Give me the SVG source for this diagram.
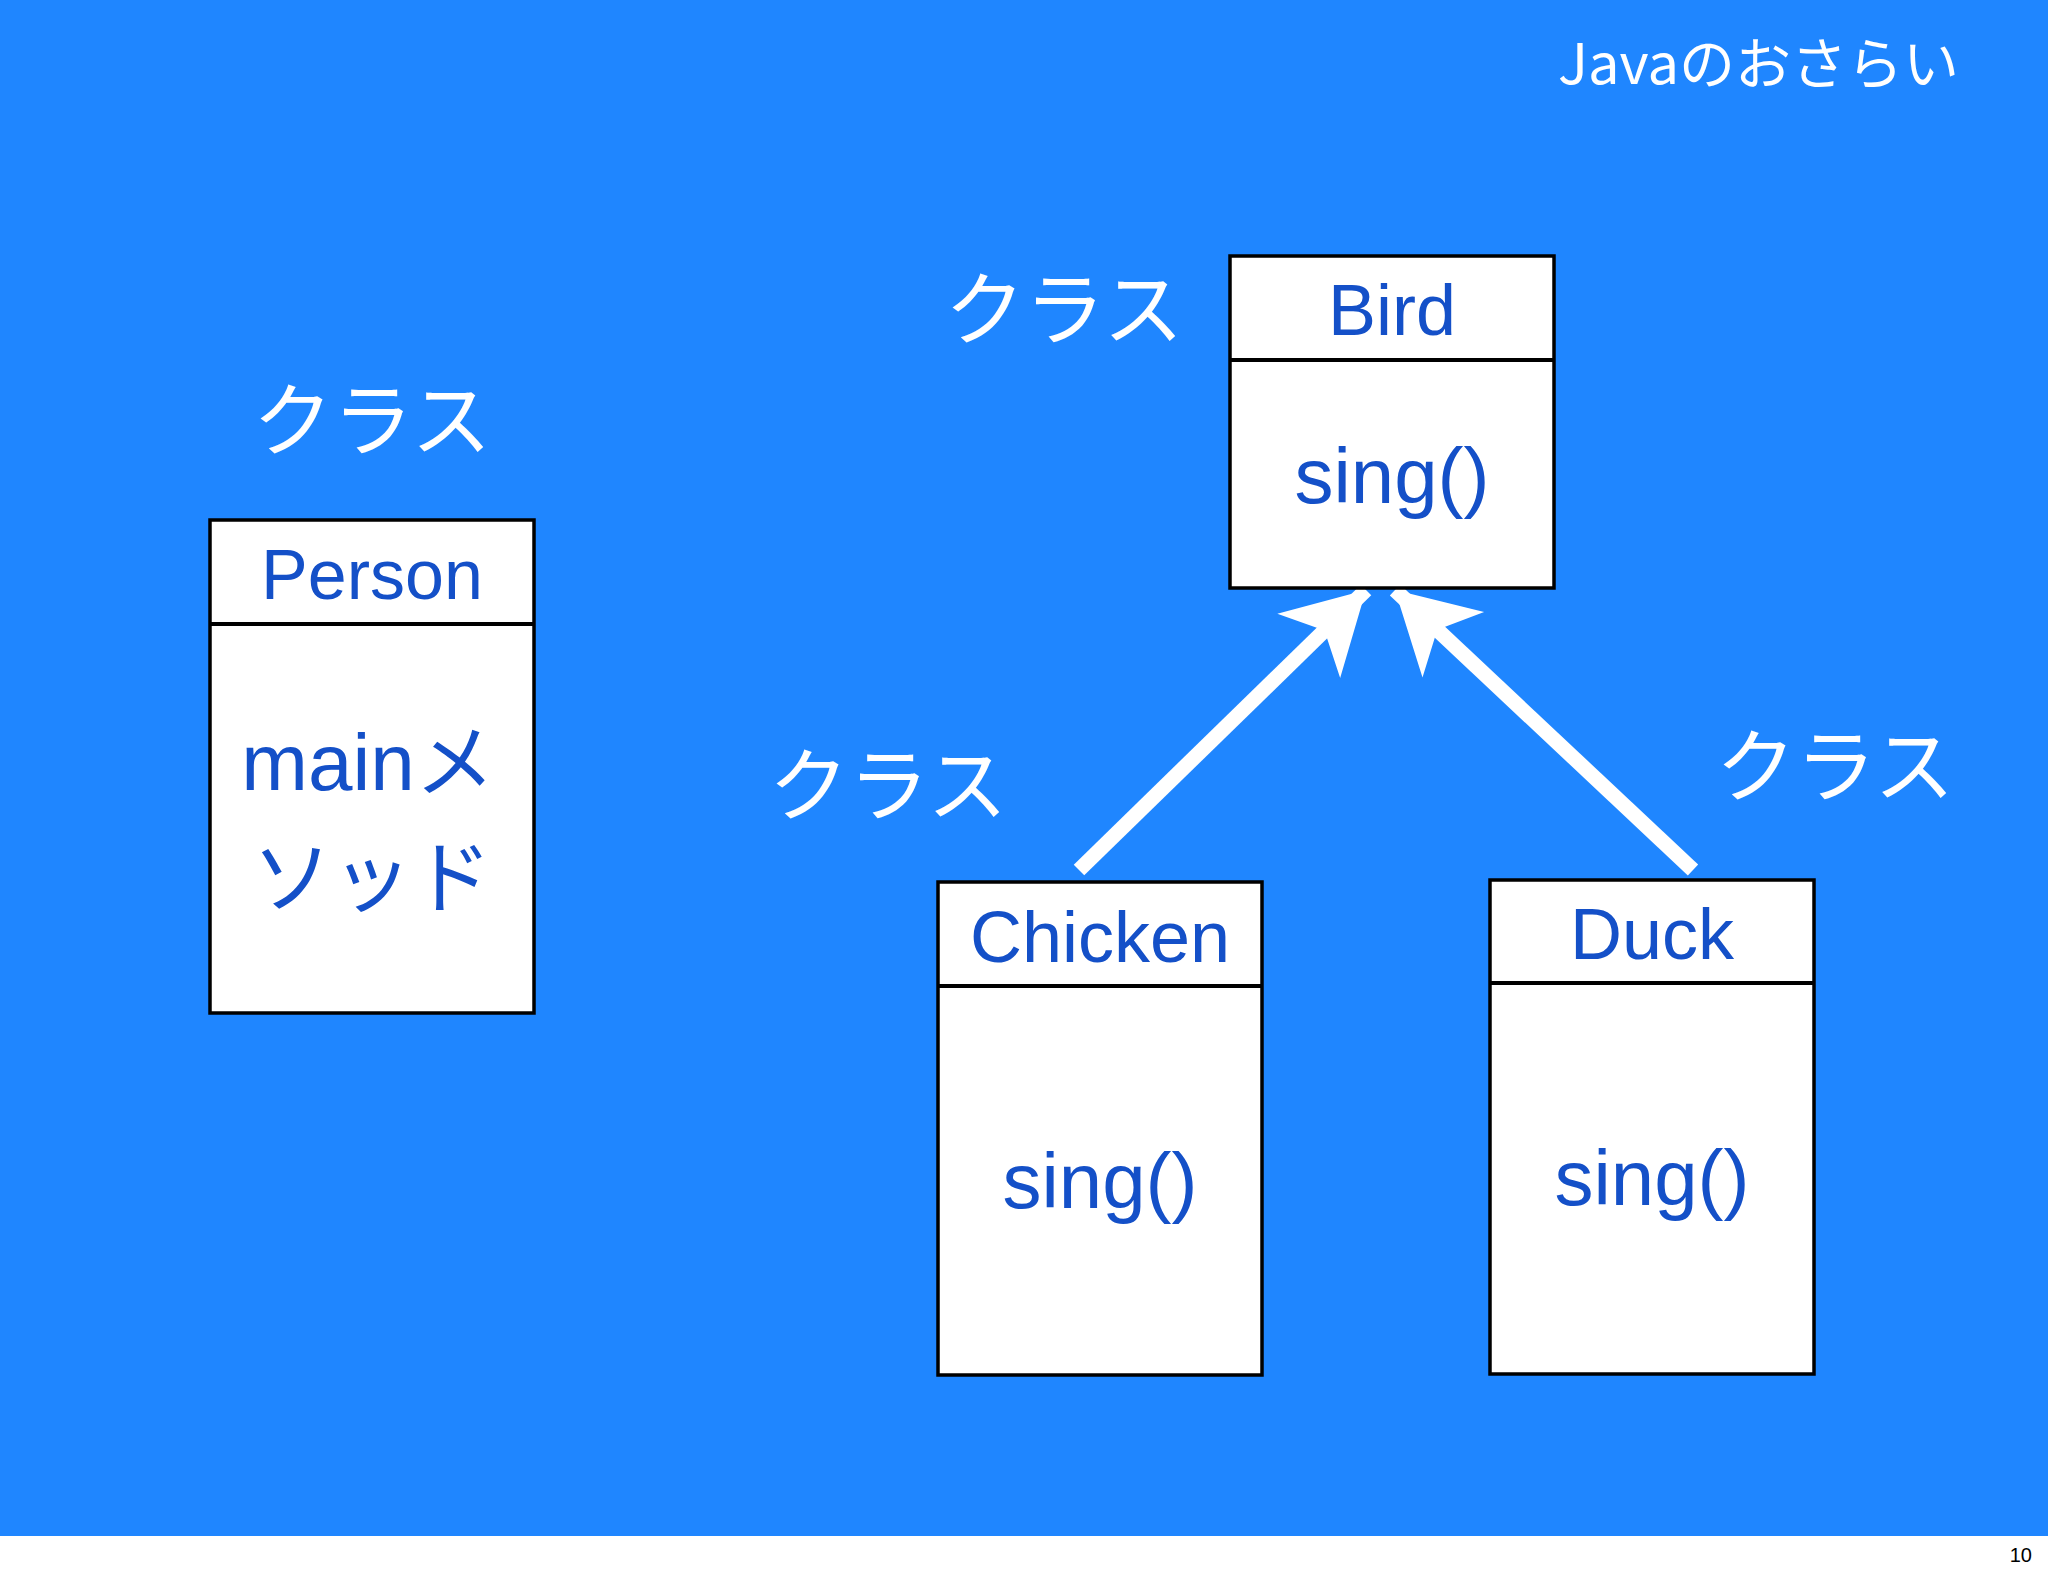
<svg xmlns="http://www.w3.org/2000/svg" width="2048" height="1576" viewBox="0 0 2048 1576">
<defs>
<style>
.box{fill:#fff;stroke:#000;stroke-width:3.5}
.t{font-family:"Liberation Sans","Noto Sans CJK JP",sans-serif;fill:#1450c8;text-anchor:middle}
.w{font-family:"Noto Sans CJK JP","Liberation Sans",sans-serif;fill:#fff;text-anchor:middle;font-size:80px}
.c{stroke:#fff;stroke-width:15;fill:none}
</style>
<marker id="ah" markerUnits="userSpaceOnUse" markerWidth="100" markerHeight="100" refX="80" refY="50" orient="auto">
<path d="M80,50 L0,5 L22,50 L0,95 Z" fill="#fff"/>
</marker>
</defs>
<rect width="2048" height="1536" fill="#1f86ff"/>
<rect y="1536" width="2048" height="40" fill="#fff"/>
<text x="2032" y="1562" font-family="Liberation Sans,sans-serif" font-size="20" text-anchor="end" fill="#000">10</text>
<text x="1959" y="84" font-family="Noto Sans CJK JP,sans-serif" font-size="56" fill="#fff" text-anchor="end">Javaのおさらい</text>
<text class="w" x="1064" y="338">クラス</text>
<text class="w" x="372" y="449">クラス</text>
<text class="w" x="888" y="814">クラス</text>
<text class="w" x="1835" y="795">クラス</text>
<g id="connectors">
<line class="c" x1="1079" y1="870" x2="1366" y2="590" marker-end="url(#ah)"/>
<line class="c" x1="1693" y1="870" x2="1395" y2="590" marker-end="url(#ah)"/>
</g>
<g id="bird">
<rect class="box" x="1230" y="256" width="324" height="332"/>
<line x1="1230" y1="360" x2="1554" y2="360" stroke="#000" stroke-width="4"/>
<text class="t" x="1392" y="335" font-size="72">Bird</text>
<text class="t" x="1392" y="503" font-size="78">sing()</text>
</g>
<g id="person">
<rect class="box" x="210" y="520" width="324" height="493"/>
<line x1="210" y1="624" x2="534" y2="624" stroke="#000" stroke-width="4"/>
<text class="t" x="372" y="599" font-size="70">Person</text>
<text class="t" x="368" y="790" font-size="80">mainメ</text>
<text class="t" x="372" y="906" font-size="80">ソッド</text>
</g>
<g id="chicken">
<rect class="box" x="938" y="882" width="324" height="493"/>
<line x1="938" y1="986" x2="1262" y2="986" stroke="#000" stroke-width="4"/>
<text class="t" x="1100" y="962" font-size="72">Chicken</text>
<text class="t" x="1100" y="1208" font-size="78">sing()</text>
</g>
<g id="duck">
<rect class="box" x="1490" y="880" width="324" height="494"/>
<line x1="1490" y1="983" x2="1814" y2="983" stroke="#000" stroke-width="4"/>
<text class="t" x="1652" y="959" font-size="72">Duck</text>
<text class="t" x="1652" y="1205" font-size="78">sing()</text>
</g>
</svg>
